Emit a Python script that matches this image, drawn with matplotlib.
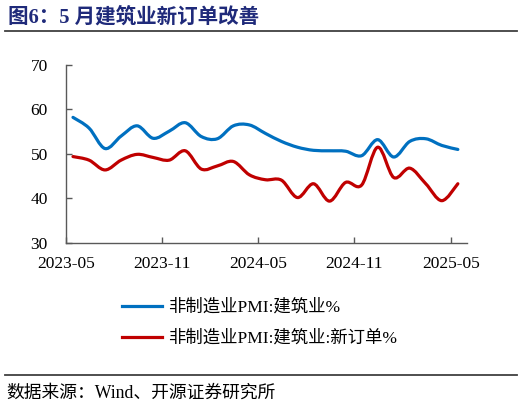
import numpy as np
import pandas as pd
import matplotlib
matplotlib.use("Agg")
import matplotlib.pyplot as plt
from matplotlib.path import Path
from matplotlib.patches import PathPatch
from matplotlib.lines import Line2D

# monthly data, 2023-05 .. 2025-05
months = pd.period_range("2023-05", "2025-05", freq="M")
pmi_build = [58.2, 55.8, 51.2, 54.0, 56.3, 53.5, 55.1, 57.0, 53.9, 53.4, 56.3, 56.5,
             54.6, 52.8, 51.5, 50.8, 50.7, 50.6, 49.6, 53.2, 49.3, 52.8, 53.4, 51.9, 51.0]
pmi_orders = [49.4, 48.6, 46.4, 48.6, 49.9, 49.2, 48.6, 50.7, 46.6, 47.3, 48.3, 45.3,
              44.2, 44.1, 40.2, 43.3, 39.4, 43.6, 43.0, 51.5, 44.7, 46.8, 43.3, 39.5, 43.3]
label_build = "非制造业PMI:建筑业%"
label_orders = "非制造业PMI:建筑业:新订单%"
tick_months = ["2023-05", "2023-11", "2024-05", "2024-11", "2025-05"]

plt.rcParams["font.family"] = ["Liberation Serif", "Noto Sans CJK SC"]
plt.rcParams["axes.unicode_minus"] = False

blue = "#0070c0"
red = "#c00000"


def smooth_path(x, y, k=1/6):
    # catmull-rom style bezier through the points (excel "smoothed line")
    pts = np.column_stack([x, y])
    verts = [pts[0]]
    codes = [Path.MOVETO]
    for i in range(len(pts) - 1):
        p0 = pts[max(i - 1, 0)]
        p1 = pts[i]
        p2 = pts[i + 1]
        p3 = pts[min(i + 2, len(pts) - 1)]
        c1 = p1 + (p2 - p0) * k
        c2 = p2 - (p3 - p1) * k
        verts += [c1, c2, p2]
        codes += [Path.CURVE4] * 3
    return Path(verts, codes)


fig = plt.figure(figsize=(5.22, 4.05), dpi=100)
ax = fig.add_axes([0.126, 0.40, 0.768, 0.44])

xpos = np.arange(len(months)) + 0.45
for vals, col in [(pmi_build, blue), (pmi_orders, red)]:
    patch = PathPatch(smooth_path(xpos, np.array(vals)), facecolor="none",
                      edgecolor=col, lw=2.3, capstyle="round", joinstyle="round")
    ax.add_patch(patch)

ax.set_xlim(0, 25)
ax.set_ylim(30, 70)
ax.set_yticks([30, 40, 50, 60, 70])
tick_pos = [list(months.strftime("%Y-%m")).index(t) for t in tick_months]
ax.set_xticks(tick_pos)
ax.set_xticklabels(tick_months)

for s in ["top", "right"]:
    ax.spines[s].set_visible(False)
for s in ["left", "bottom"]:
    ax.spines[s].set_color("#595959")
    ax.spines[s].set_linewidth(1.0)
ax.tick_params(axis="both", direction="in", length=4, width=1.0, color="#595959",
               labelsize=12.5, labelcolor="black")
ax.tick_params(axis="y", pad=13)
ax.tick_params(axis="x", pad=9)

handles = [Line2D([], [], color=blue, lw=2.3), Line2D([], [], color=red, lw=2.3)]
fig.legend(handles, [label_build, label_orders], loc="upper left",
           bbox_to_anchor=(0.218, 0.283), frameon=False, fontsize=12.5,
           handlelength=2.3, handletextpad=0.3, labelspacing=0.85, borderpad=0)

fig.text(0.016, 0.957, "图6：5 月建筑业新订单改善", fontsize=14.8, fontweight="bold",
         color="#1f2a7a", va="center", ha="left")
fig.add_artist(Line2D([0.01, 0.99], [0.923, 0.923], color="#404040", lw=1.3))
fig.add_artist(Line2D([0.01, 0.99], [0.074, 0.074], color="#404040", lw=1.3))
fig.text(0.013, 0.03, "数据来源：Wind、开源证券研究所", fontsize=12.8, color="black",
         va="center", ha="left")

fig.savefig("out.png", dpi=100)
